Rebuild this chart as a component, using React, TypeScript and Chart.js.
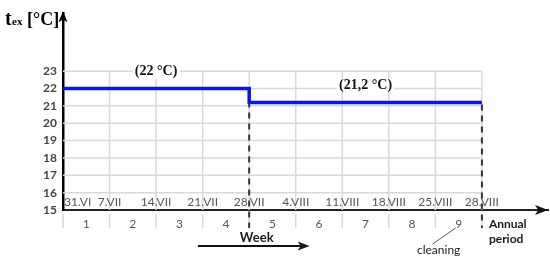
import React, { useEffect, useRef } from 'react';
import { Chart, registerables } from 'chart.js';
Chart.register(...registerables);

const weekLabels = ['1', '2', '3', '4', '5', '6', '7', '8', '9'];
const dateLabels = ['31.VI', '7.VII', '14.VII', '21.VII', '28.VII', '4.VIII', '11.VIII', '18.VIII', '25.VIII', '28.VIII'];
const periodStartWeeks = [0, 4];
const periodEndWeek = 9;
const periodTemps = [22, 21.2];
const periodTempLabels = ['(22 °C)', '(21,2 °C)'];
const yTickValues = [15, 16, 17, 18, 19, 20, 21, 22, 23];
const cleaningWeekLabelIndex = 8;

const NARROW = "Lato, 'Liberation Sans', sans-serif";
const SERIF = "'Liberation Serif', 'DejaVu Serif', serif";

function arrowHead(ctx: CanvasRenderingContext2D, tipX: number, tipY: number, dir: 'up' | 'right', len: number, half: number) {
  ctx.beginPath();
  if (dir === 'up') {
    ctx.moveTo(tipX, tipY);
    ctx.lineTo(tipX - half, tipY + len);
    ctx.lineTo(tipX, tipY + len * 0.75);
    ctx.lineTo(tipX + half, tipY + len);
  } else {
    ctx.moveTo(tipX, tipY);
    ctx.lineTo(tipX - len, tipY - half);
    ctx.lineTo(tipX - len * 0.75, tipY);
    ctx.lineTo(tipX - len, tipY + half);
  }
  ctx.closePath();
  ctx.fill();
}

const decorPlugin = {
  id: 'decor',
  beforeDatasetsDraw(chart: any) {
    const ctx: CanvasRenderingContext2D = chart.ctx;
    const xs = chart.scales.x;
    const ys = chart.scales.y;
    const yTop = yTickValues[yTickValues.length - 1];
    const yBot = yTickValues[0];
    ctx.save();
    ctx.strokeStyle = '#d9d9d9';
    ctx.lineWidth = 1.5;
    yTickValues.forEach((v) => {
      if (v === yBot) return;
      const py = ys.getPixelForValue(v);
      ctx.beginPath();
      ctx.moveTo(xs.getPixelForValue(0), py);
      ctx.lineTo(xs.getPixelForValue(periodEndWeek), py);
      ctx.stroke();
    });
    const axisY = ys.getPixelForValue(yBot);
    for (let i = 0; i <= weekLabels.length; i++) {
      const px = xs.getPixelForValue(i);
      if (i > 0) {
        ctx.beginPath();
        ctx.moveTo(px, axisY);
        ctx.lineTo(px, ys.getPixelForValue(yTop));
        ctx.stroke();
      }
      ctx.beginPath();
      ctx.moveTo(px, axisY + 4);
      ctx.lineTo(px, axisY + 18);
      ctx.stroke();
    }
    ctx.strokeStyle = '#333';
    ctx.lineWidth = 2;
    ctx.setLineDash([6, 5]);
    const bounds = [...periodStartWeeks.slice(1), periodEndWeek];
    bounds.forEach((w, k) => {
      const px = xs.getPixelForValue(w);
      ctx.beginPath();
      ctx.moveTo(px, ys.getPixelForValue(periodTemps[k]) + 2);
      ctx.lineTo(px, axisY + 18);
      ctx.stroke();
    });
    ctx.setLineDash([]);
    ctx.restore();
  },
  afterDatasetsDraw(chart: any) {
    const ctx: CanvasRenderingContext2D = chart.ctx;
    const xs = chart.scales.x;
    const ys = chart.scales.y;
    const ca = chart.chartArea;
    const axisY = ys.getPixelForValue(yTickValues[0]);
    ctx.save();
    ctx.font = `bold 14px ${SERIF}`;
    ctx.textAlign = 'center';
    ctx.textBaseline = 'middle';
    const labelPos = [
      { x: (periodStartWeeks[0] + periodStartWeeks[1]) / 2, y: 23 },
      { x: (periodStartWeeks[1] + periodEndWeek) / 2, y: 22.2 },
    ];
    periodTempLabels.forEach((t, i) => {
      const px = xs.getPixelForValue(labelPos[i].x);
      const py = ys.getPixelForValue(labelPos[i].y);
      const w = ctx.measureText(t).width;
      ctx.fillStyle = '#fff';
      ctx.fillRect(px - w / 2 - 2, py - 7, w + 4, 14);
      ctx.fillStyle = '#111';
      ctx.fillText(t, px, py);
    });
    ctx.font = `12px ${NARROW}`;
    ctx.fillStyle = '#555';
    dateLabels.forEach((d, i) => {
      const px = xs.getPixelForValue(i);
      ctx.textAlign = i === 0 ? 'left' : 'center';
      ctx.fillText(d, i === 0 ? px + 1 : px, axisY - 8);
    });
    ctx.fillStyle = '#000';
    arrowHead(ctx, ca.left, ca.top - 2, 'up', 11, 4.5);
    ctx.fillStyle = '#111';
    arrowHead(ctx, ca.right, axisY, 'right', 13, 5);
    ctx.fillStyle = '#000';
    ctx.textAlign = 'left';
    ctx.textBaseline = 'alphabetic';
    ctx.font = `bold 20px ${SERIF}`;
    ctx.fillText('t', 5, 25);
    ctx.font = `bold 11px ${SERIF}`;
    ctx.fillText('ex', 12, 25);
    ctx.font = `bold 18px ${SERIF}`;
    ctx.fillText('[°C]', 27, 25);
    ctx.fillStyle = '#1a1a1a';
    ctx.font = `bold 12px ${NARROW}`;
    ctx.textBaseline = 'middle';
    const apX = xs.getPixelForValue(periodEndWeek) + 7;
    ctx.fillText('Annual', apX, axisY + 14);
    ctx.fillText('period', apX, axisY + 29);
    const wx = xs.getPixelForValue(3.8);
    ctx.font = `bold 13px ${NARROW}`;
    ctx.fillText('Week', wx, axisY + 28);
    ctx.strokeStyle = '#111';
    ctx.lineWidth = 2;
    const arrY = axisY + 36;
    ctx.beginPath();
    ctx.moveTo(xs.getPixelForValue(2.9), arrY);
    ctx.lineTo(xs.getPixelForValue(5.3) - 8, arrY);
    ctx.stroke();
    arrowHead(ctx, xs.getPixelForValue(5.3), arrY, 'right', 12, 4.5);
    ctx.font = `12px ${NARROW}`;
    const cx = xs.getPixelForValue(cleaningWeekLabelIndex + 0.5);
    ctx.textAlign = 'center';
    ctx.fillText('cleaning', cx - 20, axisY + 40);
    ctx.strokeStyle = '#555';
    ctx.lineWidth = 1;
    ctx.beginPath();
    ctx.moveTo(cx - 3, axisY + 18);
    ctx.lineTo(cx - 26, axisY + 34);
    ctx.stroke();
    ctx.restore();
  },
};

export default function App() {
  const ref = useRef<HTMLCanvasElement | null>(null);
  useEffect(() => {
    document.body.style.margin = '0';
    const points = periodStartWeeks.map((w, i) => ({ x: w, y: periodTemps[i] }));
    points.push({ x: periodEndWeek, y: periodTemps[periodTemps.length - 1] });
    const chart = new Chart(ref.current as HTMLCanvasElement, {
      type: 'line',
      data: {
        datasets: [
          {
            data: points,
            stepped: true,
            borderColor: '#0a14f0',
            borderWidth: 3.5,
            pointRadius: 0,
            fill: false,
          },
        ],
      },
      options: {
        responsive: false,
        animation: false,
        devicePixelRatio: 1,
        layout: { padding: { left: 0, right: 2, top: 13, bottom: 0 } },
        plugins: { legend: { display: false }, tooltip: { enabled: false } },
        scales: {
          x: {
            type: 'linear',
            min: 0,
            max: 10.42,
            afterBuildTicks: (s: any) => {
              s.ticks = weekLabels.map((_, i) => ({ value: i + 0.5 }));
            },
            afterFit: (s: any) => {
              s.height = 55;
            },
            grid: { display: false, drawTicks: false },
            border: { display: true, color: '#222', width: 2 },
            ticks: {
              autoSkip: false,
              maxRotation: 0,
              padding: 7,
              color: '#555',
              font: { family: NARROW, size: 12 },
              callback: (_v: any, i: number) => weekLabels[i],
            },
          },
          y: {
            type: 'linear',
            min: 15,
            max: 26.34,
            afterBuildTicks: (s: any) => {
              s.ticks = yTickValues.map((v) => ({ value: v }));
            },
            afterFit: (s: any) => {
              s.width = 63;
            },
            grid: { display: false, drawTicks: false },
            border: { display: true, color: '#000', width: 2.5 },
            ticks: {
              padding: 6,
              color: '#444',
              font: { family: NARROW, size: 12, weight: 'bold' },
            },
          },
        },
      },
      plugins: [decorPlugin],
    });
    return () => chart.destroy();
  }, []);
  return (
    <div style={{ width: 550, height: 265 }}>
      <canvas ref={ref} width={550} height={265} />
    </div>
  );
}
